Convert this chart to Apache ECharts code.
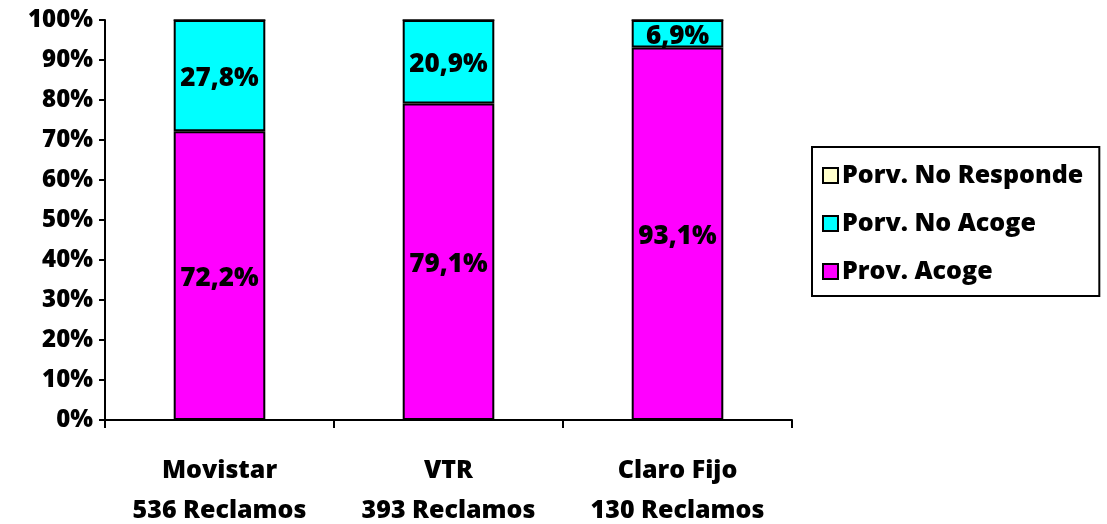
<!DOCTYPE html>
<html>
<head>
<meta charset="utf-8">
<script src="https://cdn.jsdelivr.net/npm/echarts@6/dist/echarts.min.js"></script>
<style>
  html, body {margin: 0; padding: 0; background: #fff;}
  #chart {width: 1107px; height: 524px;}
</style>
</head>
<body>
<div id="chart"></div>
<script>
const categories = ['Movistar\n536 Reclamos', 'VTR\n393 Reclamos', 'Claro Fijo\n130 Reclamos'];
const provAcoge = [72.2, 79.1, 93.1];
const provNoAcoge = [27.8, 20.9, 6.9];
const provNoResponde = [0, 0, 0];
const yTicks = [0, 10, 20, 30, 40, 50, 60, 70, 80, 90, 100];

const font = '"Open Sans", "Noto Sans", sans-serif';
const weight = 800;
const pct = v => v.toFixed(1).replace('.', ',') + '%';

const chart = echarts.init(document.getElementById('chart'));

const barLabel = {
  show: true,
  position: 'inside',
  offset: [0, 3],
  color: '#000',
  fontFamily: font,
  fontWeight: weight,
  fontSize: 26,
  formatter: p => p.value > 0 ? pct(p.value) : ''
};

chart.setOption({
  animation: false,
  textStyle: {fontFamily: font},
  grid: {left: 105, right: 315, top: 20, bottom: 104, outerBoundsMode: 'none', containLabel: false},
  legend: {
    orient: 'vertical',
    left: 812,
    top: 147,
    padding: [16, 16, 12, 10],
    itemGap: 23,
    itemWidth: 15,
    itemHeight: 15,
    borderColor: '#000',
    borderWidth: 2,
    icon: 'rect',
    itemStyle: {borderColor: '#000', borderWidth: 2},
    textStyle: {fontFamily: font, fontWeight: weight, fontSize: 25, color: '#000', padding: [0, 0, 0, -1]},
    data: ['Porv. No Responde', 'Porv. No Acoge', 'Prov. Acoge']
  },
  xAxis: {
    type: 'category',
    data: categories,
    axisLine: {lineStyle: {color: '#000', width: 2}},
    axisTick: {show: true, length: 8, lineStyle: {color: '#000', width: 2}},
    axisLabel: {
      color: '#000', fontFamily: font, fontWeight: weight, fontSize: 25,
      lineHeight: 40, margin: 31
    }
  },
  yAxis: {
    type: 'value',
    min: yTicks[0],
    max: yTicks[yTicks.length - 1],
    interval: 10,
    axisLine: {show: true, lineStyle: {color: '#000', width: 2}},
    axisTick: {show: true, length: 6, lineStyle: {color: '#000', width: 2}},
    splitLine: {show: false},
    axisLabel: {
      color: '#000', fontFamily: font, fontWeight: weight, fontSize: 24,
      margin: 12, formatter: '{value}%'
    }
  },
  series: [
    {
      name: 'Prov. Acoge', type: 'bar', stack: 'total', data: provAcoge,
      barWidth: '40%',
      itemStyle: {color: '#FF00FF', borderColor: '#000', borderWidth: 2},
      label: barLabel
    },
    {
      name: 'Porv. No Acoge', type: 'bar', stack: 'total', data: provNoAcoge,
      barWidth: '40%',
      itemStyle: {color: '#00FFFF', borderColor: '#000', borderWidth: 2},
      label: barLabel
    },
    {
      name: 'Porv. No Responde', type: 'bar', stack: 'total', data: provNoResponde,
      barWidth: '40%',
      itemStyle: {color: '#FFFFCC', borderColor: '#000', borderWidth: 1},
      label: {show: false}
    }
  ]
});
</script>
</body>
</html>
